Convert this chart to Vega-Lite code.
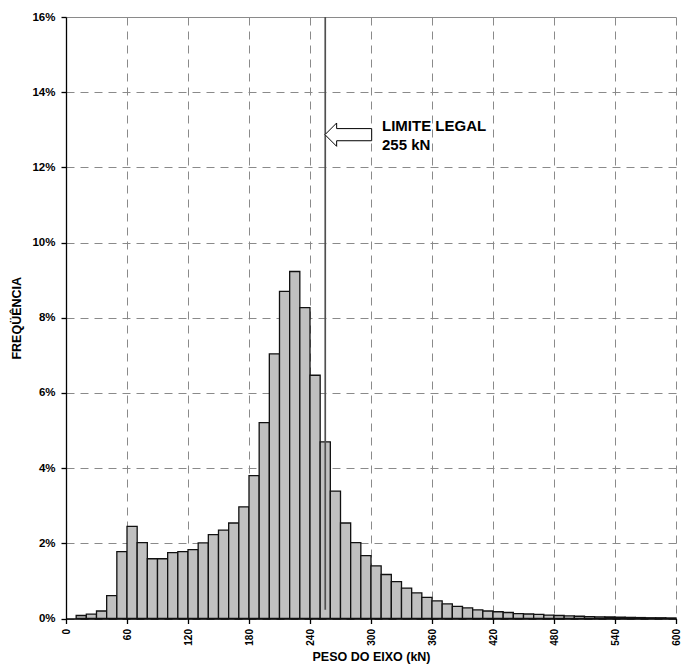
{
  "$schema": "https://vega.github.io/schema/vega-lite/v6.json",
  "autosize": {"type": "none"},
  "width": 610,
  "height": 601.5,
  "padding": {"left": 66, "top": 17, "right": 5, "bottom": 47.5},
  "background": "white",
  "config": {
    "view": {"stroke": null},
    "font": "Liberation Sans",
    "axis": {
      "domainColor": "black",
      "domainWidth": 1.3,
      "tickColor": "black",
      "tickWidth": 1.3,
      "tickSize": 5,
      "labelColor": "black",
      "labelFontWeight": "bold",
      "titleColor": "black",
      "titleFontWeight": "bold",
      "titleFontSize": 12.5,
      "gridColor": "#8a8a8a",
      "gridWidth": 1
    }
  },
  "datasets": {
    "bins": [
      {"lo": 10, "hi": 20, "f": 0.08},
      {"lo": 20, "hi": 30, "f": 0.115},
      {"lo": 30, "hi": 40, "f": 0.2},
      {"lo": 40, "hi": 50, "f": 0.61},
      {"lo": 50, "hi": 60, "f": 1.78},
      {"lo": 60, "hi": 70, "f": 2.45},
      {"lo": 70, "hi": 80, "f": 2.02},
      {"lo": 80, "hi": 90, "f": 1.59},
      {"lo": 90, "hi": 100, "f": 1.59},
      {"lo": 100, "hi": 110, "f": 1.75},
      {"lo": 110, "hi": 120, "f": 1.78},
      {"lo": 120, "hi": 130, "f": 1.83},
      {"lo": 130, "hi": 140, "f": 2.01},
      {"lo": 140, "hi": 150, "f": 2.23},
      {"lo": 150, "hi": 160, "f": 2.35},
      {"lo": 160, "hi": 170, "f": 2.54},
      {"lo": 170, "hi": 180, "f": 2.97},
      {"lo": 180, "hi": 190, "f": 3.8},
      {"lo": 190, "hi": 200, "f": 5.21},
      {"lo": 200, "hi": 210, "f": 7.04},
      {"lo": 210, "hi": 220, "f": 8.7},
      {"lo": 220, "hi": 230, "f": 9.23},
      {"lo": 230, "hi": 240, "f": 8.27},
      {"lo": 240, "hi": 250, "f": 6.47},
      {"lo": 250, "hi": 260, "f": 4.7},
      {"lo": 260, "hi": 270, "f": 3.39},
      {"lo": 270, "hi": 280, "f": 2.54},
      {"lo": 280, "hi": 290, "f": 2.02},
      {"lo": 290, "hi": 300, "f": 1.67},
      {"lo": 300, "hi": 310, "f": 1.4},
      {"lo": 310, "hi": 320, "f": 1.17},
      {"lo": 320, "hi": 330, "f": 0.98},
      {"lo": 330, "hi": 340, "f": 0.81},
      {"lo": 340, "hi": 350, "f": 0.68},
      {"lo": 350, "hi": 360, "f": 0.56},
      {"lo": 360, "hi": 370, "f": 0.47},
      {"lo": 370, "hi": 380, "f": 0.39},
      {"lo": 380, "hi": 390, "f": 0.32},
      {"lo": 390, "hi": 400, "f": 0.28},
      {"lo": 400, "hi": 410, "f": 0.23},
      {"lo": 410, "hi": 420, "f": 0.2},
      {"lo": 420, "hi": 430, "f": 0.18},
      {"lo": 430, "hi": 440, "f": 0.16},
      {"lo": 440, "hi": 450, "f": 0.13},
      {"lo": 450, "hi": 460, "f": 0.12},
      {"lo": 460, "hi": 470, "f": 0.11},
      {"lo": 470, "hi": 480, "f": 0.09},
      {"lo": 480, "hi": 490, "f": 0.08},
      {"lo": 490, "hi": 500, "f": 0.07},
      {"lo": 500, "hi": 510, "f": 0.06},
      {"lo": 510, "hi": 520, "f": 0.05},
      {"lo": 520, "hi": 530, "f": 0.045},
      {"lo": 530, "hi": 540, "f": 0.04},
      {"lo": 540, "hi": 550, "f": 0.035},
      {"lo": 550, "hi": 560, "f": 0.03},
      {"lo": 560, "hi": 570, "f": 0.025},
      {"lo": 570, "hi": 580, "f": 0.02},
      {"lo": 580, "hi": 590, "f": 0.02},
      {"lo": 590, "hi": 600, "f": 0.015}
    ],
    "limit": [{"x": 255, "y1": 0.23, "y2": 16}],
    "arrow": [{"x": 277.7, "y": 12.87}],
    "note": [
      {"x": 310.8, "y": 12.98, "label": "LIMITE LEGAL"},
      {"x": 310.8, "y": 12.45, "label": "255 kN"}
    ]
  },
  "layer": [
    {
      "data": {"name": "bins"},
      "mark": {"type": "rect", "fill": "#c0c0c0", "stroke": "#111111", "strokeWidth": 1.3},
      "encoding": {
        "x": {
          "field": "lo",
          "type": "quantitative",
          "scale": {"domain": [0, 600], "nice": false, "zero": false},
          "axis": {
            "values": [0, 60, 120, 180, 240, 300, 360, 420, 480, 540, 600],
            "title": "PESO DO EIXO (kN)",
            "labelAngle": -90,
            "labelFontSize": 10,
            "labelPadding": 5,
            "titlePadding": 5,
            "grid": true,
            "gridDash": [8, 6]
          }
        },
        "x2": {"field": "hi"},
        "y": {
          "field": "f",
          "type": "quantitative",
          "scale": {"domain": [0, 16], "nice": false},
          "axis": {
            "values": [0, 2, 4, 6, 8, 10, 12, 14, 16],
            "labelExpr": "datum.value + '%'",
            "title": "FREQÜÊNCIA",
            "labelFontSize": 11.5,
            "labelPadding": 6,
            "titlePadding": 8,
            "grid": true,
            "gridDash": {"condition": {"test": "datum.value === 16", "value": []}, "value": [8, 6]}
          }
        },
        "y2": {"datum": 0}
      }
    },
    {
      "data": {"name": "limit"},
      "mark": {"type": "rule", "color": "#505050", "strokeWidth": 1.7},
      "encoding": {
        "x": {"field": "x", "type": "quantitative"},
        "y": {"field": "y1", "type": "quantitative"},
        "y2": {"field": "y2"}
      }
    },
    {
      "data": {"name": "arrow"},
      "mark": {
        "type": "point",
        "shape": "M -1 0 L -0.5 -0.5 L -0.5 -0.26 L 1 -0.26 L 1 0.26 L -0.5 0.26 L -0.5 0.5 Z",
        "size": 2180,
        "filled": true,
        "fill": "white",
        "stroke": "black",
        "strokeWidth": 1,
        "opacity": 1
      },
      "encoding": {
        "x": {"field": "x", "type": "quantitative"},
        "y": {"field": "y", "type": "quantitative"}
      }
    },
    {
      "data": {"name": "note"},
      "mark": {"type": "text", "align": "left", "baseline": "alphabetic", "fontSize": 15, "fontWeight": "bold", "color": "black"},
      "encoding": {
        "x": {"field": "x", "type": "quantitative"},
        "y": {"field": "y", "type": "quantitative"},
        "text": {"field": "label"}
      }
    }
  ]
}
